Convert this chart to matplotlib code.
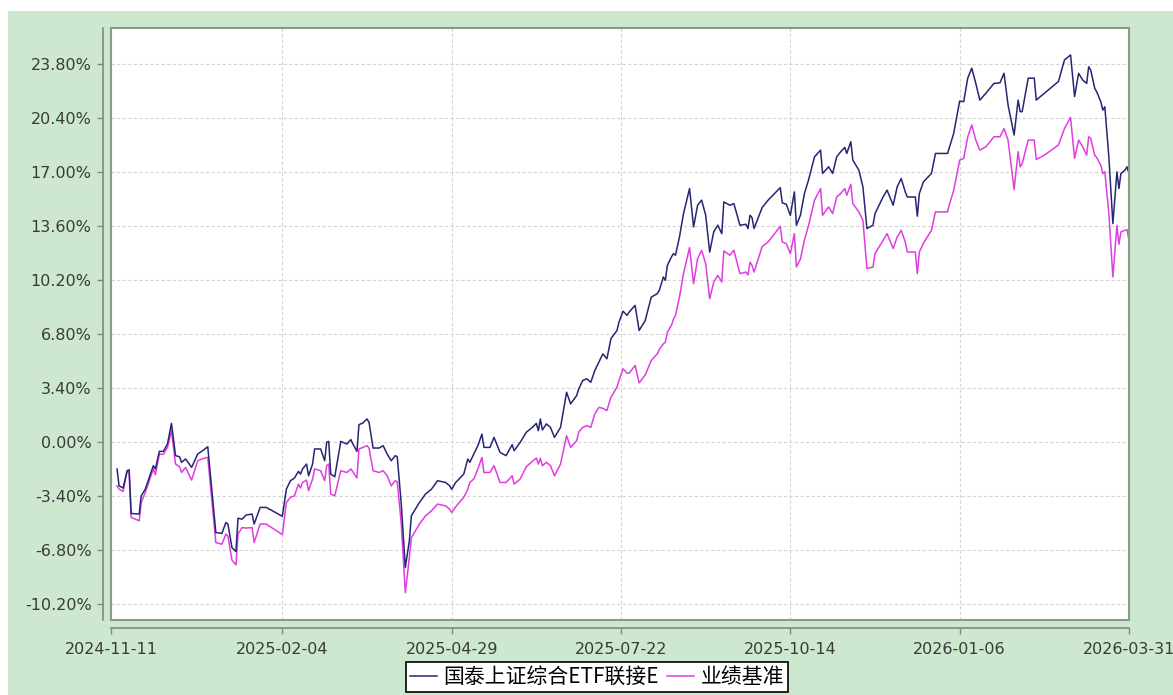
import numpy as np
import matplotlib
matplotlib.use("Agg")
import matplotlib.pyplot as plt
from matplotlib.patches import Rectangle

# ---------------- data ----------------
start_date = "2024-11-11"
day_offsets = [3, 4, 6, 8, 9, 10, 14, 15, 17, 21, 22, 24, 26, 28, 30, 32, 34, 35, 37, 40,
               43, 45, 48, 52, 55, 57, 58, 60, 62, 63, 65, 67, 70, 71, 74, 77, 85, 87, 89, 91,
               93, 94, 95, 97, 98, 100, 101, 104, 106, 107, 108, 109, 111, 114, 117, 119, 120, 122, 123, 125,
               127, 128, 130, 133, 135, 137, 139, 141, 142, 144, 146, 148, 149, 153, 156, 159, 162, 166, 168, 169,
               171, 175, 177, 178, 180, 182, 184, 185, 188, 190, 193, 196, 199, 200, 203, 206, 209, 211, 212, 213,
               214, 216, 218, 220, 223, 226, 228, 231, 232, 234, 236, 238, 240, 242, 244, 246, 248, 251, 252, 254,
               256, 257, 260, 262, 265, 268, 271, 272, 274, 275, 276, 278, 279, 280, 282, 284, 287, 289, 291, 293,
               295, 297, 299, 301, 303, 304, 307, 309, 312, 315, 316, 317, 318, 319, 323, 326, 332, 333, 335, 337,
               339, 340, 342, 344, 346, 349, 352, 353, 356, 358, 360, 362, 364, 365, 367, 368, 371, 373, 375, 378,
               379, 383, 385, 388, 390, 392, 394, 395, 399, 400, 401, 403, 407, 409, 415, 416, 418, 421, 423, 425,
               427, 429, 431, 434, 438, 441, 443, 445, 448, 450, 451, 452, 455, 458, 459, 463, 470, 473, 476, 478,
               480, 482, 484, 485, 486, 488, 489, 491, 492, 493, 495, 497, 499, 500, 501, 503, 504, 505]

fund_returns = [-1.72, -2.78, -2.92, -1.83, -1.77, -4.52, -4.56, -3.41, -2.99, -1.51, -1.72, -0.61, -0.61, -0.15, 1.15, -0.88, -0.95, -1.30, -1.09, -1.62,
                -0.78, -0.61, -0.32, -5.72, -5.78, -5.09, -5.19, -6.67, -6.92, -4.82, -4.88, -4.62, -4.56, -5.19, -4.14, -4.14, -4.70, -2.99, -2.46, -2.29,
                -1.87, -2.04, -1.72, -1.41, -2.15, -1.41, -0.46, -0.46, -1.20, -0.04, 0.02, -2.04, -2.21, 0.02, -0.15, 0.13, -0.15, -0.61, 1.07, 1.18,
                1.43, 1.22, -0.40, -0.40, -0.25, -0.78, -1.20, -0.88, -0.95, -3.93, -7.93, -6.25, -4.67, -3.83, -3.30, -2.99, -2.46, -2.57, -2.78, -3.00,
                -2.57, -2.04, -1.09, -1.30, -0.78, -0.25, 0.48, -0.36, -0.36, 0.27, -0.68, -0.88, -0.19, -0.57, -0.04, 0.59, 0.90, 1.15, 0.69, 1.43,
                0.74, 1.12, 0.90, 0.27, 0.90, 3.11, 2.38, 2.90, 3.32, 3.85, 3.96, 3.74, 4.48, 5.00, 5.53, 5.22, 6.48, 7.00, 7.53, 8.22,
                7.95, 8.16, 8.58, 7.00, 7.63, 9.10, 9.32, 9.53, 10.37, 10.16, 11.10, 11.63, 11.84, 11.74, 12.89, 14.36, 15.94, 13.52, 14.89, 15.21,
                14.26, 11.94, 13.21, 13.63, 13.10, 15.10, 14.89, 14.99, 13.63, 13.69, 13.42, 14.26, 14.11, 13.42, 14.74, 15.21, 16.00, 15.04, 14.95, 14.25,
                15.73, 13.63, 14.26, 15.63, 16.47, 17.94, 18.36, 16.89, 17.31, 16.89, 17.94, 18.26, 18.53, 18.15, 18.89, 17.73, 17.10, 16.05, 13.42, 13.63,
                14.36, 15.41, 15.84, 14.89, 16.05, 16.57, 15.73, 15.41, 15.41, 14.20, 15.63, 16.36, 16.89, 18.15, 18.15, 18.57, 19.40, 21.45, 21.41, 22.89,
                23.52, 22.56, 21.51, 21.94, 22.56, 22.60, 23.20, 21.20, 19.31, 21.51, 20.78, 20.78, 22.89, 22.89, 21.51, 21.94, 22.68, 24.04, 24.35, 21.73,
                23.20, 22.78, 22.56, 23.61, 23.41, 22.25, 22.03, 21.41, 20.88, 21.09, 17.94, 13.73, 16.99, 15.94, 16.89, 17.10, 17.31, 16.89]

bench_returns = [-2.78, -2.99, -3.14, -1.83, -1.95, -4.77, -4.98, -3.83, -3.20, -1.72, -2.08, -0.78, -0.80, -0.36, 0.69, -1.41, -1.58, -1.94, -1.62, -2.42,
                 -1.20, -1.09, -0.99, -6.35, -6.46, -5.82, -5.95, -7.46, -7.76, -5.82, -5.41, -5.44, -5.41, -6.35, -5.19, -5.19, -5.85, -3.83, -3.51, -3.41,
                 -2.67, -2.92, -2.57, -2.42, -3.09, -2.35, -1.72, -1.83, -2.46, -1.51, -1.41, -3.30, -3.41, -1.83, -1.94, -1.72, -1.90, -2.29, -0.46, -0.36,
                 -0.25, -0.40, -1.83, -1.94, -1.83, -2.15, -2.78, -2.46, -2.52, -5.19, -9.51, -7.30, -6.04, -5.19, -4.67, -4.35, -3.93, -4.04, -4.25, -4.46,
                 -4.10, -3.50, -2.99, -2.57, -2.35, -1.72, -0.99, -1.94, -1.94, -1.51, -2.57, -2.57, -2.15, -2.67, -2.35, -1.58, -1.24, -1.03, -1.41, -1.05,
                 -1.51, -1.30, -1.51, -2.15, -1.41, 0.38, -0.36, 0.06, 0.59, 0.90, 1.01, 0.90, 1.74, 2.16, 2.10, 1.96, 2.80, 3.43, 3.85, 4.59,
                 4.31, 4.31, 4.80, 3.70, 4.20, 5.11, 5.53, 5.80, 6.16, 6.26, 6.90, 7.32, 7.70, 7.95, 9.10, 10.58, 12.22, 9.95, 11.53, 12.05,
                 11.21, 9.00, 10.05, 10.47, 10.05, 12.01, 11.74, 12.05, 10.58, 10.68, 10.50, 11.31, 11.10, 10.68, 12.28, 12.58, 13.56, 12.58, 12.47, 11.84,
                 13.10, 11.00, 11.50, 12.70, 13.60, 15.21, 15.94, 14.26, 14.78, 14.36, 15.41, 15.63, 15.94, 15.52, 16.21, 14.99, 14.47, 13.94, 10.90, 11.00,
                 11.84, 12.68, 13.10, 12.16, 12.89, 13.31, 12.58, 11.94, 11.94, 10.58, 11.94, 12.50, 13.31, 14.47, 14.47, 14.99, 15.80, 17.73, 17.84, 19.20,
                 19.94, 18.99, 18.36, 18.57, 19.20, 19.20, 19.72, 18.99, 15.88, 18.26, 17.31, 17.50, 18.99, 18.99, 17.77, 18.04, 18.68, 19.72, 20.42, 17.84,
                 18.99, 18.57, 18.04, 19.20, 19.10, 18.04, 17.89, 17.41, 16.89, 17.00, 14.40, 10.37, 13.63, 12.43, 13.21, 13.31, 13.35, 12.68]

tick_dates = ["2024-11-11", "2025-02-04", "2025-04-29", "2025-07-22", "2025-10-14", "2026-01-06", "2026-03-31"]
y_ticks = [-10.20, -6.80, -3.40, 0.00, 3.40, 6.80, 10.20, 13.60, 17.00, 20.40, 23.80]
series_names = ["国泰上证综合ETF联接E", "业绩基准"]

# ---------------- figure ----------------
W, H = 1173, 695
fig = plt.figure(figsize=(W / 100, H / 100), dpi=100)
fig.patch.set_facecolor("white")
green = "#cde8cf"
fig.patches.append(Rectangle((8 / W, 0), 1 - 8 / W, 1 - 11 / H, transform=fig.transFigure,
                             facecolor=green, edgecolor="none", zorder=-10))

left, right, top, bottom = 111, 1129, 28, 620
ax = fig.add_axes([left / W, 1 - bottom / H, (right - left) / W, (bottom - top) / H])
ax.set_zorder(1)
ax.set_facecolor("white")

dates = np.datetime64(start_date) + np.array(day_offsets).astype("timedelta64[D]")
ax.plot(dates, fund_returns, color="#262673", lw=1.1, label=series_names[0], zorder=3)
ax.plot(dates, bench_returns, color="#e03de0", lw=1.1, label=series_names[1], zorder=2)

t0 = np.datetime64(tick_dates[0])
t1 = np.datetime64(tick_dates[-1])
ax.set_xlim(t0, t1)
ax.set_ylim(-11.23, 26.05)

xt = [np.datetime64(d) for d in tick_dates]
ax.set_xticks(xt)
ax.set_xticklabels(tick_dates)
ax.set_yticks(y_ticks)
ax.set_yticklabels([f"{v:.2f}%" for v in y_ticks])

ax.grid(True, color="#d4d4d4", linestyle=(0, (3, 2)), linewidth=0.8)
ax.set_axisbelow(True)

border = "#8a9a8a"
for s in ["top", "right"]:
    ax.spines[s].set_color(border)
    ax.spines[s].set_linewidth(1.2)
for s in ["left", "bottom"]:
    ax.spines[s].set_position(("outward", 6))
    ax.spines[s].set_color("#7d8c7d")
    ax.spines[s].set_linewidth(1.2)
ax.add_patch(Rectangle((0, 0), 1, 1, transform=ax.transAxes, facecolor="none",
                       edgecolor=border, linewidth=1.5, zorder=5, clip_on=False))

ax.tick_params(axis="both", colors="#7d8c7d", length=4, width=1, labelcolor="#3a3a3a",
               labelsize=11.5)
ax.tick_params(axis="x", pad=6)
ax.tick_params(axis="y", pad=4)

leg = fig.legend(loc="upper center", bbox_to_anchor=(597 / W, 1 - 662 / H), ncol=2,
                 prop={"family": ["Noto Sans CJK SC", "DejaVu Sans"], "size": 15},
                 frameon=True, fancybox=False, edgecolor="black", facecolor="white",
                 framealpha=1, handlelength=1.3, handletextpad=0.3, columnspacing=0.4,
                 borderpad=0.2, borderaxespad=0)
leg.get_frame().set_linewidth(1.2)
leg.set_zorder(10)

fig.savefig("out.png", dpi=100)
